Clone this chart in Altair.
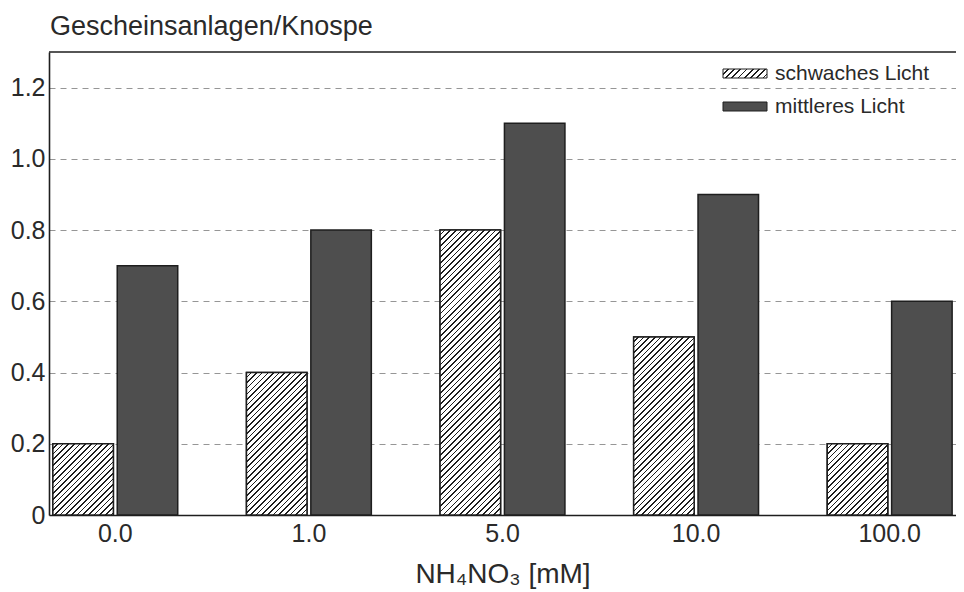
import math
import altair as alt
import pandas as pd

# ---- data ----
concentrations = ["0.0", "1.0", "5.0", "10.0", "100.0"]
series_names = ["schwaches Licht", "mittleres Licht"]
schwach_values = [0.2, 0.4, 0.8, 0.5, 0.2]
mittel_values = [0.7, 0.8, 1.1, 0.9, 0.6]
y_ticks = [0, 0.2, 0.4, 0.6, 0.8, 1.0, 1.2]

rows = []
for c, s, m in zip(concentrations, schwach_values, mittel_values):
    rows.append({"conc": c, "series": series_names[0], "value": s})
    rows.append({"conc": c, "series": series_names[1], "value": m})
df = pd.DataFrame(rows)

# ---- layout / style ----
PW, PH = 907, 463
Y_MAX = 1.3
PAD_IN, PAD_OUT = 0.355, 0.02
SUB_PAD = 0.06
DARK = "#4e4e4e"
INK = "#1e1e1e"
TXT = "#2a2a2a"
FONT = "Liberation Sans"

step = PW / (len(concentrations) - PAD_IN + 2 * PAD_OUT)
band = step * (1 - PAD_IN)
sub_step = band / (2 - SUB_PAD)
BAR_W = sub_step * (1 - SUB_PAD)


def hatch(W, H, period=4.0, lw=1.15):
    """Diagonal '/' hatch as a linear gradient in bounding-box units."""
    L = (W + H) / math.sqrt(2)
    s = (W + H) / (W * W + H * H)
    stops = []
    i = 0
    while i * period < L:
        a = i * period / L
        b = min((i * period + period - lw) / L, 1)
        c = min((i + 1) * period / L, 1)
        stops += [
            {"offset": a, "color": "#ffffff"},
            {"offset": b, "color": "#ffffff"},
            {"offset": b, "color": INK},
            {"offset": c, "color": INK},
        ]
        i += 1
    return {"gradient": "linear", "x1": 0, "y1": 0, "x2": s * W, "y2": s * H,
            "stops": stops}


x_enc = alt.X("conc:N", sort=concentrations,
              scale=alt.Scale(paddingInner=PAD_IN, paddingOuter=PAD_OUT),
              axis=alt.Axis(title="NH₄NO₃ [mM]", labelAngle=0, ticks=False,
                            labelPadding=6, titlePadding=14))
xo_enc = alt.XOffset("series:N", sort=series_names,
                     scale=alt.Scale(paddingInner=SUB_PAD, paddingOuter=0))
y_enc = alt.Y("value:Q", scale=alt.Scale(domain=[0, Y_MAX], nice=False),
              axis=alt.Axis(title=None, values=y_ticks, ticks=False,
                            labelPadding=4,
                            labelExpr="datum.value == 0 ? '0' : format(datum.value, '.1f')",
                            grid=True, gridDash=[6, 5], gridColor="#8a8a8a",
                            gridWidth=0.9))

base = alt.Chart(df).mark_bar(stroke=INK, strokeWidth=1.5).encode(
    x=x_enc, xOffset=xo_enc, y=y_enc,
    fill=alt.Fill("series:N", sort=series_names,
                  scale=alt.Scale(domain=series_names, range=["#ffffff", DARK]),
                  legend=None),
)

layers = [base]
for v in sorted(set(schwach_values)):
    H = v / Y_MAX * PH
    layers.append(
        alt.Chart(df)
        .transform_filter(
            f"datum.series === '{series_names[0]}' && datum.value == {v}")
        .mark_bar(fill=hatch(BAR_W, H), stroke=INK, strokeWidth=1.5)
        .encode(x=x_enc, xOffset=xo_enc, y=y_enc)
    )

# top frame line of the plot box
top_frame = alt.Chart(pd.DataFrame({"k": [0]})).mark_rule(
    color=INK, strokeWidth=1.5).encode(
    y=alt.value(0), x=alt.value(0), x2=alt.value(PW))
layers.append(top_frame)

# legend (drawn by hand so the hatch can be shown)
LX, LY, LSTEP, SW, SH = 674, 17, 33, 44, 9
leg_df = pd.DataFrame({"series": series_names})
fills = [hatch(SW, SH, period=4.4, lw=1.2), DARK]
for i, name in enumerate(series_names):
    layers.append(
        alt.Chart(leg_df).transform_filter(f"datum.series === '{name}'")
        .mark_rect(fill=fills[i], stroke=INK, strokeWidth=1)
        .encode(x=alt.value(LX), x2=alt.value(LX + SW),
                y=alt.value(LY + i * LSTEP), y2=alt.value(LY + i * LSTEP + SH))
    )
    layers.append(
        alt.Chart(leg_df).transform_filter(f"datum.series === '{name}'")
        .mark_text(align="left", baseline="middle", fontSize=21, font=FONT,
                   color=TXT)
        .encode(x=alt.value(LX + SW + 8), y=alt.value(LY + i * LSTEP + SH / 2 + 0.5),
                text="series:N")
    )

chart = alt.layer(*layers).properties(
    width=PW, height=PH,
    autosize=alt.AutoSizeParams(type="none"),
    padding={"left": 41, "top": 44, "right": 0, "bottom": 76},
    title=alt.TitleParams("Gescheinsanlagen/Knospe", anchor="start",
                          frame="group", dx=1, offset=10, fontSize=27,
                          fontWeight="normal", font=FONT, color=TXT),
).configure_view(stroke=None).configure_axis(
    labelFont=FONT, titleFont=FONT, labelFontSize=25, titleFontSize=28,
    titleFontWeight="normal", labelColor=TXT, titleColor=TXT,
    domainColor=INK, domainWidth=1.6,
)

chart.save("out.html", embed_options={"renderer": "svg", "actions": False})
